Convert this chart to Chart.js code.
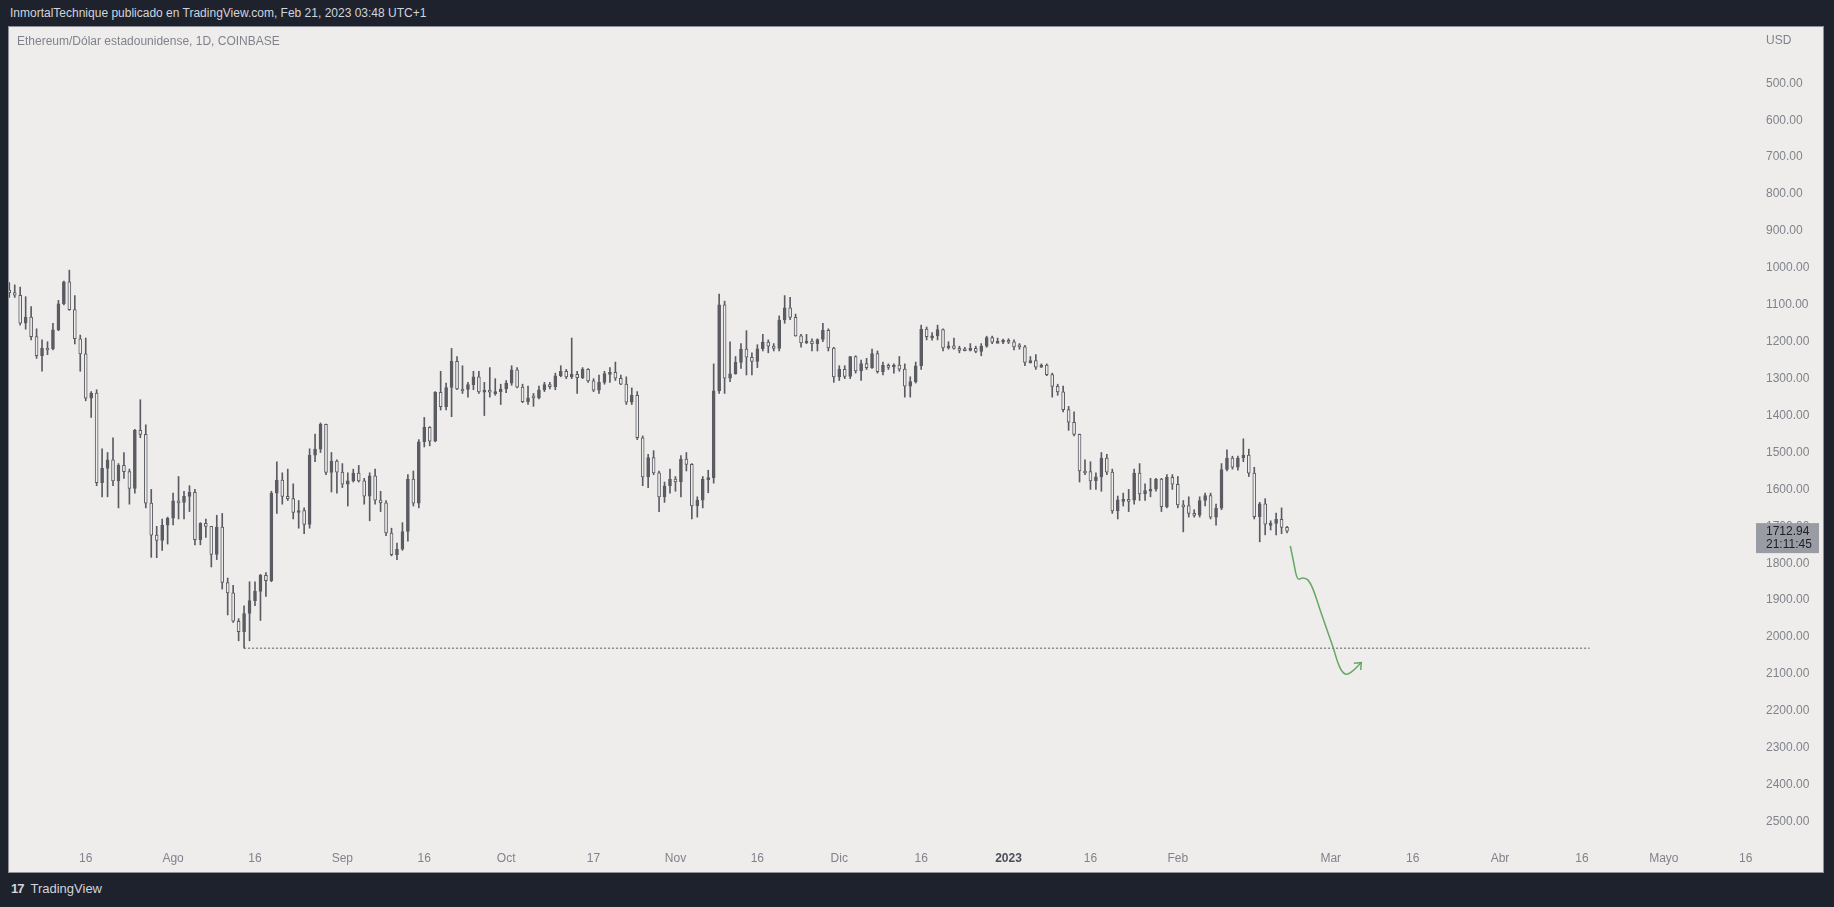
<!DOCTYPE html>
<html>
<head>
<meta charset="utf-8">
<title>ETHUSD 1D</title>
<script src="https://cdn.jsdelivr.net/npm/chart.js@4.4.0/dist/chart.umd.min.js"></script>
<style>
  html, body { margin: 0; padding: 0; background: #1e222d; width: 1834px; height: 907px; overflow: hidden; font-family: 'Liberation Sans', Arial, sans-serif; }
  #header { position: absolute; left: 10px; top: 6px; color: #d1d4dc; font-size: 12px; }
  #panel { position: absolute; left: 9px; top: 27px; width: 1814px; height: 845px; background: #eeedeb; box-shadow: 0 0 0 1px #8e919a; }
  #footer { position: absolute; left: 11px; top: 881px; color: #d1d4dc; font-size: 13px; }
  #footer b { font-size: 13px; letter-spacing: -1px; margin-right: 7px; }
</style>
</head>
<body>
<div id="header">InmortalTechnique publicado en TradingView.com, Feb 21, 2023 03:48 UTC+1</div>
<div id="panel"><canvas id="chart"></canvas></div>
<div id="footer"><b>17</b>TradingView</div>
<script>
// day numbers count from Jul 1 2022 = 0, first candle is Jul 2
const firstDay = 1;

const opens = [
  // jul
  1060,1067,1074,1150,1133,1186,1238,1217,1219,1168,1097,1038,1113,1192,1233,1353,1339,1582,1543,1520,1577,1535,1552,1597,1440,1451,1637,1724,1738,1697,
  // aug
  1678,1631,1635,1619,1608,1736,1692,1700,1776,1702,1852,1880,1957,1985,1936,1901,1876,1833,1847,1610,1575,1619,1625,1662,1657,1695,1507,1491,1424,1554,1523,
  // sep
  1553,1586,1577,1556,1577,1618,1563,1629,1636,1718,1777,1762,1714,1572,1637,1471,1432,1469,1337,1376,1324,1253,1328,1329,1316,1295,1336,1331,1336,1335,
  // oct
  1328,1312,1276,1323,1362,1352,1352,1330,1316,1322,1292,1280,1295,1288,1297,1275,1306,1331,1310,1286,1283,1299,1315,1364,1345,1460,1566,1514,1555,1620,1590,
  // nov
  1572,1580,1518,1532,1645,1629,1572,1568,1333,1100,1299,1287,1256,1220,1242,1253,1219,1201,1212,1218,1141,1108,1134,1184,1203,1198,1205,1194,1169,1217,
  // dic
  1295,1275,1294,1240,1279,1259,1270,1232,1281,1264,1265,1263,1274,1320,1308,1265,1166,1186,1184,1167,1217,1211,1218,1219,1220,1218,1226,1212,1189,1201,1199,
  // jan
  1196,1200,1214,1214,1256,1251,1269,1263,1289,1321,1336,1384,1418,1451,1550,1552,1577,1566,1515,1553,1658,1628,1627,1629,1556,1612,1603,1599,1572,1647,1567,
  // feb
  1586,1642,1644,1665,1670,1630,1617,1675,1651,1546,1515,1540,1515,1507,1556,1674,1639,1694,1692,1681,1703
];
const highs = [
  1080,1080,1155,1166,1195,1245,1280,1235,1222,1170,1100,1115,1206,1280,1360,1405,1590,1620,1620,1590,1650,1570,1640,1610,1460,1650,1784,1785,1765,1748,
  1696,1680,1680,1660,1750,1750,1730,1810,1790,1870,1940,1960,2010,2030,2010,1915,1955,1890,1850,1665,1640,1630,1680,1705,1720,1705,1525,1500,1560,1607,1610,
  1595,1645,1580,1580,1640,1685,1640,1660,1725,1780,1790,1765,1740,1645,1650,1485,1482,1471,1385,1385,1403,1330,1340,1350,1330,1340,1400,1350,1345,1370,
  1338,1318,1325,1365,1370,1375,1355,1335,1328,1330,1295,1300,1300,1340,1300,1310,1335,1340,1315,1310,1305,1316,1370,1370,1465,1590,1595,1560,1660,1635,1610,
  1605,1620,1550,1680,1675,1650,1609,1583,1340,1340,1308,1288,1272,1290,1290,1270,1225,1230,1225,1225,1150,1140,1185,1215,1205,1225,1225,1200,1225,1310,
  1305,1300,1300,1285,1305,1275,1272,1285,1290,1275,1285,1280,1350,1350,1312,1275,1195,1196,1195,1225,1220,1220,1230,1225,1225,1230,1238,1215,1205,1203,1205,
  1205,1222,1220,1265,1258,1275,1270,1292,1350,1345,1390,1440,1455,1580,1560,1600,1600,1605,1560,1665,1680,1645,1660,1640,1630,1630,1620,1605,1660,1650,1600,
  1650,1715,1675,1675,1675,1645,1680,1697,1655,1550,1545,1548,1525,1565,1680,1742,1723,1710,1723,1720,1718
];
const lows = [
  1040,1046,1052,1078,1105,1165,1195,1200,1150,1088,1036,1006,1075,1182,1190,1335,1330,1490,1500,1460,1530,1500,1545,1437,1357,1425,1600,1700,1680,1675,
  1610,1565,1605,1590,1600,1690,1680,1700,1670,1665,1840,1860,1950,1915,1850,1850,1830,1825,1605,1525,1555,1545,1585,1630,1650,1490,1450,1420,1423,1500,1520,
  1530,1555,1545,1535,1570,1555,1545,1605,1630,1705,1745,1690,1560,1550,1465,1405,1430,1335,1280,1312,1218,1240,1265,1310,1280,1280,1310,1270,1300,1315,
  1305,1265,1270,1315,1320,1340,1320,1310,1310,1285,1265,1275,1190,1280,1270,1273,1300,1290,1280,1270,1255,1290,1295,1325,1335,1455,1505,1495,1550,1580,1545,
  1565,1508,1500,1530,1620,1565,1548,1260,1071,1090,1200,1240,1205,1170,1230,1208,1180,1195,1205,1130,1075,1080,1125,1180,1180,1192,1192,1150,1165,1215,
  1265,1265,1240,1238,1250,1245,1220,1225,1255,1260,1260,1240,1260,1295,1255,1155,1160,1175,1155,1165,1200,1190,1212,1215,1205,1212,1205,1185,1185,1190,1193,
  1192,1195,1205,1210,1240,1235,1260,1260,1285,1315,1320,1375,1390,1450,1520,1525,1555,1500,1505,1545,1618,1610,1600,1545,1530,1585,1570,1570,1570,1560,1560,
  1565,1630,1620,1655,1620,1610,1610,1640,1530,1493,1510,1510,1463,1491,1540,1635,1625,1685,1664,1650,1700
];
const closes = [
  1067,1074,1150,1133,1186,1238,1217,1219,1168,1097,1038,1113,1192,1233,1353,1339,1582,1543,1520,1577,1535,1552,1597,1440,1451,1637,1724,1738,1697,1678,
  1631,1635,1619,1608,1736,1692,1700,1776,1702,1852,1880,1957,1985,1936,1901,1876,1833,1847,1610,1575,1619,1625,1662,1657,1695,1507,1491,1424,1554,1523,1553,
  1586,1577,1556,1577,1618,1563,1629,1636,1718,1777,1762,1714,1572,1637,1471,1432,1469,1337,1376,1324,1253,1328,1329,1316,1295,1336,1331,1336,1335,1328,
  1312,1276,1323,1362,1352,1352,1330,1316,1322,1292,1280,1295,1288,1297,1275,1306,1331,1310,1286,1283,1299,1315,1364,1345,1460,1566,1514,1555,1620,1590,1572,
  1580,1518,1532,1645,1629,1572,1568,1333,1100,1299,1287,1256,1220,1242,1253,1219,1201,1212,1218,1141,1108,1134,1184,1203,1198,1205,1194,1169,1217,1295,
  1275,1294,1240,1279,1259,1270,1232,1281,1264,1265,1263,1274,1320,1308,1265,1166,1186,1184,1167,1217,1211,1218,1219,1220,1218,1226,1212,1189,1201,1199,1196,
  1200,1214,1214,1256,1251,1269,1263,1289,1321,1336,1384,1418,1451,1550,1552,1577,1566,1515,1553,1658,1628,1627,1629,1556,1612,1603,1599,1572,1647,1567,1586,
  1642,1644,1665,1670,1630,1617,1675,1651,1546,1515,1540,1515,1507,1556,1674,1639,1694,1692,1681,1703,1712.94
];

// time axis ticks (day numbers) and their labels
const xTickDays = [15, 31, 46, 62, 77, 92, 108, 123, 138, 153, 168, 184, 199, 215, 243, 258, 274, 289, 304, 319];
const xTickLabels = ['16', 'Ago', '16', 'Sep', '16', 'Oct', '17', 'Nov', '16', 'Dic', '16', '2023', '16', 'Feb', 'Mar', '16', 'Abr', '16', 'Mayo', '16'];
const yTicks = [500, 600, 700, 800, 900, 1000, 1100, 1200, 1300, 1400, 1500, 1600, 1700, 1800, 1900, 2000, 2100, 2200, 2300, 2400, 2500];

// horizontal level drawn from the Aug 14 high
const levelPrice = 2030;
const levelFrom = 44, levelTo = 290.4;

// hand drawn projection (day, price)
const projDays   = [235.6, 236.25, 236.7, 237.1, 237.9, 238.8, 239.7, 241.25, 243.4, 244.6, 245.65, 246.75, 248.6];
const projPrices = [1753, 1800, 1832, 1843, 1840, 1845, 1868, 1935, 2026, 2080, 2100, 2095, 2069];
const headDays   = [247.25, 248.6, 248.5];
const headPrices = [2071, 2069, 2089];

const pairTitle = 'Ethereum/Dólar estadounidense, 1D, COINBASE';
const lastPrice = 1712.94;
const countdown = '21:11:45';

const candleColor = '#5b5c63';
const paneColor = '#eeedeb';
const tickColor = '#80838c';

let days = opens.map((o, i) => firstDay + i);

let wickData = days.map((d, i) => ({ x: d, y: [lows[i], highs[i]] }));
let bodyData = days.map((d, i) => ({ x: d, y: [opens[i], closes[i]] }));
let bodyFill = days.map((d, i) => closes[i] < opens[i] ? candleColor : paneColor);

const labelsPlugin = {
  id: 'labelsPlugin',
  afterDraw(chart) {
    const ctx = chart.ctx;
    const area = chart.chartArea;
    const y = chart.scales.y;
    ctx.save();
    ctx.font = "12px 'Liberation Sans', Arial, sans-serif";
    ctx.textBaseline = 'middle';
    ctx.fillStyle = tickColor;
    ctx.fillText(pairTitle, 8, 15);
    ctx.fillText('USD', area.right + 11, 14);
    // last price marker
    let py = y.getPixelForValue(lastPrice);
    ctx.fillStyle = '#9a9ca4';
    ctx.fillRect(area.right + 1, py - 8, 63, 30);
    ctx.fillStyle = '#1c1f26';
    ctx.fillText(lastPrice.toFixed(2), area.right + 11, py + 1);
    ctx.fillText(countdown, area.right + 11, py + 14);
    ctx.restore();
  }
};

new Chart(document.getElementById('chart'), {
  type: 'bar',
  data: {
    datasets: [
      {
        label: 'wicks',
        data: wickData,
        backgroundColor: candleColor,
        barThickness: 1,
        grouped: false,
        order: 3
      },
      {
        label: 'bodies',
        data: bodyData,
        backgroundColor: bodyFill,
        borderColor: candleColor,
        borderWidth: 1,
        borderSkipped: false,
        barThickness: 3,
        minBarLength: 2,
        grouped: false,
        order: 2
      },
      {
        type: 'line',
        label: 'level',
        data: [{ x: levelFrom, y: levelPrice }, { x: levelTo, y: levelPrice }],
        borderColor: '#5b5c63',
        borderWidth: 1,
        borderDash: [2, 2],
        pointRadius: 0,
        order: 1
      },
      {
        type: 'line',
        label: 'projection',
        data: projDays.map((d, i) => ({ x: d, y: projPrices[i] })),
        borderColor: 'rgba(86,160,88,0.9)',
        borderWidth: 1.5,
        tension: 0.4,
        pointRadius: 0,
        order: 0
      },
      {
        type: 'line',
        label: 'arrow',
        data: headDays.map((d, i) => ({ x: d, y: headPrices[i] })),
        borderColor: 'rgba(86,160,88,0.9)',
        borderWidth: 1.5,
        pointRadius: 0,
        order: 0
      }
    ]
  },
  options: {
    responsive: true,
    maintainAspectRatio: false,
    animation: false,
    layout: { padding: 0 },
    plugins: {
      legend: { display: false },
      tooltip: { enabled: false }
    },
    scales: {
      x: {
        type: 'linear',
        min: 0.95,
        max: 320.7,
        offset: false,
        grid: { display: false, drawTicks: false, offset: false },
        border: { display: false },
        afterBuildTicks: (scale) => { scale.ticks = xTickDays.map(v => ({ value: v })); },
        afterFit: (scale) => {
          scale.height = 28;
          scale.paddingLeft = 0;
          scale.paddingRight = 0;
        },
        ticks: {
          autoSkip: false,
          maxRotation: 0,
          padding: 7,
          color: (c) => xTickLabels[c.index] === '2023' ? '#4c4f59' : tickColor,
          font: (c) => ({ size: 12, weight: xTickLabels[c.index] === '2023' ? 'bold' : 'normal' }),
          callback: (value, index) => xTickLabels[index]
        }
      },
      y: {
        type: 'linear',
        position: 'right',
        reverse: true,
        min: 347.5,
        max: 2560.4,
        grid: { display: false, drawTicks: false },
        border: { display: false },
        afterBuildTicks: (scale) => { scale.ticks = yTicks.map(v => ({ value: v })); },
        afterFit: (scale) => {
          scale.width = 68;
          scale.paddingTop = 0;
          scale.paddingBottom = 0;
        },
        ticks: {
          padding: 11,
          color: tickColor,
          font: { size: 12 },
          callback: (value) => Number(value).toFixed(2)
        }
      }
    }
  },
  plugins: [labelsPlugin]
});
</script>
</body>
</html>
